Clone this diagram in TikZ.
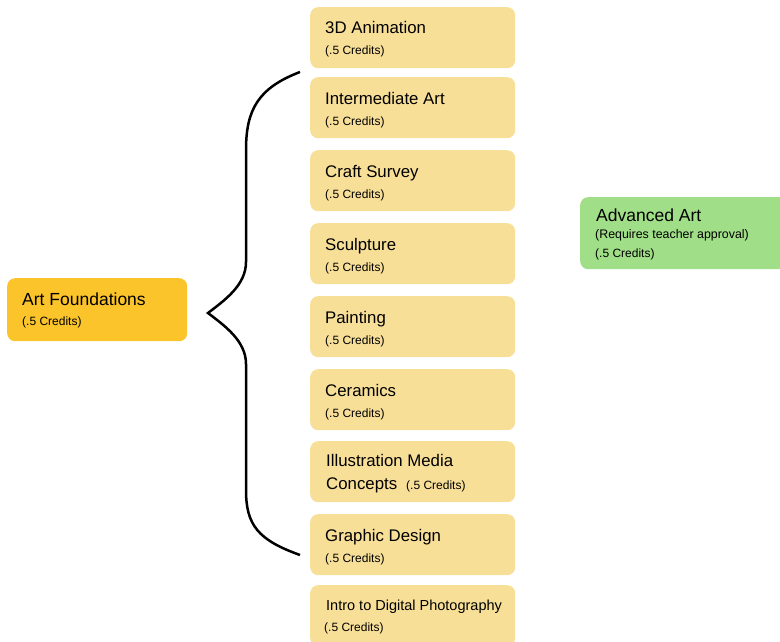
\documentclass[tikz,border=0pt]{standalone}
\usepackage{fontspec}
\setmainfont{Liberation Sans}
\usetikzlibrary{positioning}
\definecolor{course}{RGB}{248,223,152}
\definecolor{found}{RGB}{251,196,42}
\definecolor{advanced}{RGB}{160,222,135}
\tikzset{
  box/.style={rounded corners=8pt, minimum width=205pt, minimum height=61pt, inner sep=0pt, anchor=north west},
  title/.style={anchor=base west, inner sep=0pt, font=\fontsize{16.8}{19}\selectfont},
  bigtitle/.style={title, font=\fontsize{17.5}{20}\selectfont},
  credit/.style={anchor=base west, inner sep=0pt, font=\fontsize{12}{14}\selectfont},
}
\begin{document}
\begin{tikzpicture}[x=1pt, y=-1pt]
  \useasboundingbox (0,0) rectangle (780,642);

  % course boxes
  \foreach \tag/\top/\title in {anim/7/3D Animation, inter/77/Intermediate Art,
      craft/150/Craft Survey, sculp/223/Sculpture, paint/296/Painting,
      ceram/369/Ceramics, graph/514/Graphic Design} {
    \node[box, fill=course] (\tag) at (310,\top) {};
    \node[title] (\tag-t) at (325,\top+27) {\title};
    \node[credit] (\tag-c) at (325,\top+48) {(.5 Credits)};
  }
  \node[box, fill=course] (illus) at (310,441) {};
  \node[title] (illus-t) at (326,466) {Illustration Media};
  \node[title] (illus-t2) at (326,489) {Concepts};
  \node[credit] (illus-c) at (406,489) {(.5 Credits)};

  \node[box, fill=course] (photo) at (310,585) {};
  \node[title, font=\fontsize{14.5}{17}\selectfont] (photo-t) at (326,610) {Intro to Digital Photography};
  \node[credit] (photo-c) at (324,631) {(.5 Credits)};

  % start and end
  \node[box, fill=found, minimum width=180pt, minimum height=63pt] (found) at (7,278) {};
  \node[bigtitle] (found-t) at (22,305) {Art Foundations};
  \node[credit] (found-c) at (22,325) {(.5 Credits)};

  \node[box, fill=advanced, minimum width=215pt, minimum height=72pt] (adv) at (580,197) {};
  \node[bigtitle] (adv-t) at (596,221) {Advanced Art};
  \node[credit, font=\fontsize{12.4}{14}\selectfont] (adv-r) at (595,238) {(Requires teacher approval)};
  \node[credit] (adv-c) at (595,257) {(.5 Credits)};

  % brace
  \coordinate (btop) at (300,72);
  \coordinate (btip) at (208,313);
  \coordinate (bbot) at (300,555);
  \draw[line width=2.5pt] (btop) .. controls (258,88) and (246,110) .. (246,150)
    -- (246,262) .. controls (246,285) and (225,300) .. (btip)
    .. controls (225,326) and (246,341) .. (246,364)
    -- (246,490) .. controls (246,525) and (258,540) .. (bbot);
\end{tikzpicture}
\end{document}
